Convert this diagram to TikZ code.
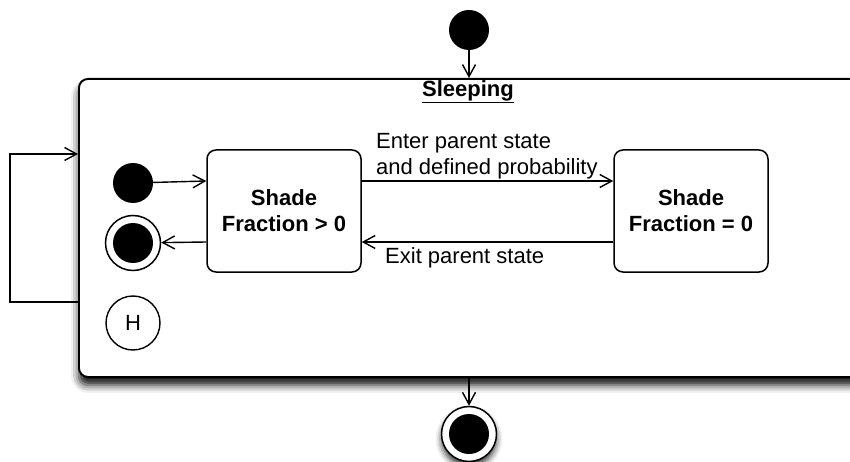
\documentclass[tikz,border=0pt]{standalone}
\usepackage{fontspec}
\setmainfont{Liberation Sans}
\usetikzlibrary{arrows.meta,shadows.blur}

\begin{document}
\begin{tikzpicture}[x=1pt,y=-1pt,
  txt/.style={font=\fontsize{22}{25.5}\selectfont},
  arr/.style={line width=1.4pt,-{Straight Barb[length=12pt,width=13pt]}},
  composite/.style={draw,line width=1.9pt,rounded corners=9pt,fill=white,
    minimum width=830pt,minimum height=298pt,inner sep=0pt,
    blur shadow={shadow xshift=0pt,shadow yshift=-8pt,shadow blur radius=8pt,shadow opacity=95}},
  statebox/.style={draw,line width=1.5pt,rounded corners=9pt,fill=white,
    minimum width=154pt,minimum height=122pt,align=center,font=\bfseries\fontsize{22}{26}\selectfont},
  initial/.style={circle,fill=black,minimum size=40pt,inner sep=0pt},
  final/.style={circle,draw,line width=1.5pt,fill=white,minimum size=55pt,inner sep=0pt,
    path picture={\fill[black] (path picture bounding box.center) circle (20pt);}},
  history/.style={circle,draw,line width=1.4pt,fill=white,minimum size=54pt,inner sep=0pt,txt}
]
\useasboundingbox (0,0) rectangle (850,462);
\clip (0,0) rectangle (850,462);

% composite state
\node[composite,anchor=north west] (sleeping) at (78,78) {};
\node[font=\bfseries\fontsize{22}{25.5}\selectfont] (title) at (468,92) {\underline{Sleeping}};

% outer pseudostates
\node[initial] (topinit) at (469,30) {};
\node[final,blur shadow={shadow xshift=0pt,shadow yshift=-5pt,shadow blur radius=6pt,shadow opacity=80}] (botfinal) at (469,434) {};

% inner pseudostates
\node[initial] (ininit) at (133,183) {};
\node[final] (infinal) at (133,243) {};
\node[history] (hist) at (133,323) {H};

% substates
\node[statebox] (shadepos) at (284,211) {Shade\\Fraction > 0};
\node[statebox] (shadezero) at (691,211) {Shade\\Fraction = 0};

% self transition on the composite state
\coordinate (loopout) at (78,302);
\coordinate (loopin) at (78,154);
\draw[arr] (loopout) -- ++(-68,0) |- (loopin);

% transitions
\draw[arr] (topinit) -- (topinit |- sleeping.north);
\draw[arr] (sleeping.south -| botfinal) -- (botfinal);
\draw[arr] (ininit) -- ([yshift=30pt]shadepos.west);
\draw[arr] ([yshift=-31pt]shadepos.west) -- (infinal);
\draw[arr] ([yshift=30pt]shadepos.east) -- ([yshift=30pt]shadezero.west);
\draw[arr] ([yshift=-31pt]shadezero.west) -- ([yshift=-31pt]shadepos.east);

% transition labels
\node[txt,align=left,anchor=west,inner sep=0pt] (enterlbl) at (376,156)
  {Enter parent state\\and defined probability};
\node[txt,anchor=west,inner sep=0pt] (exitlbl) at (385,258) {Exit parent state};
\end{tikzpicture}
\end{document}
